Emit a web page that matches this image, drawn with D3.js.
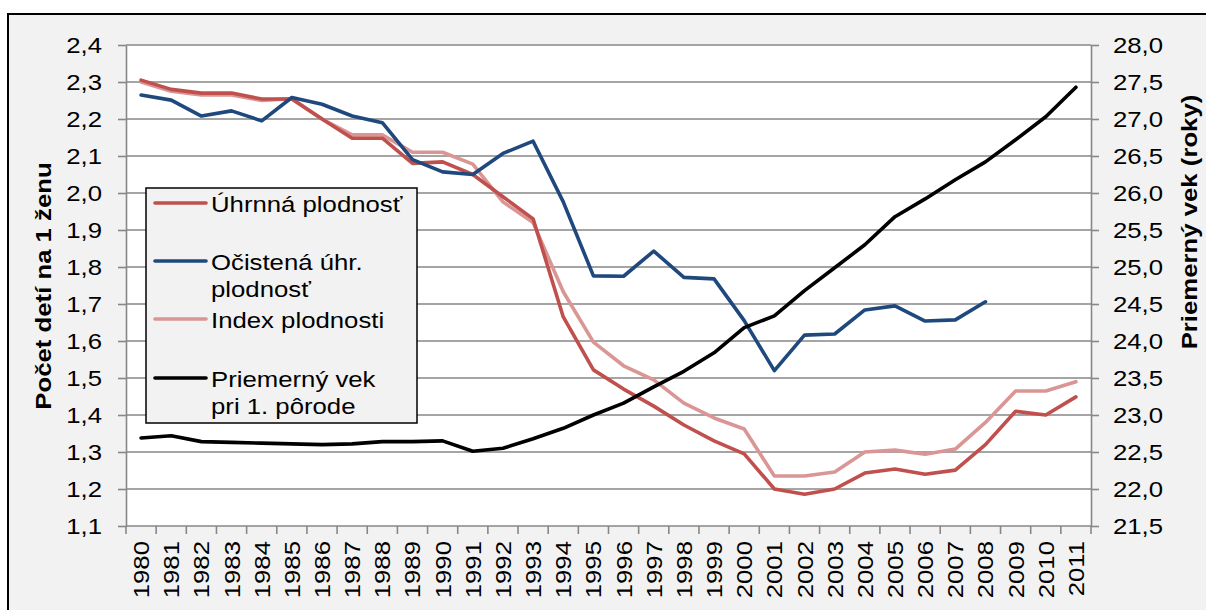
<!DOCTYPE html>
<html>
<head>
<meta charset="utf-8">
<script src="https://cdn.jsdelivr.net/npm/d3@7"></script>
<style>
  body { margin: 0; background: #ffffff; }
  svg { display: block; font-family: "Liberation Sans", Arial, sans-serif; }
</style>
</head>
<body>
<svg id="chart"></svg>
<script>
// years on the category axis
var years = d3.range(1980, 2012)

// Úhrnná plodnosť
var uhrnna = [2.305, 2.28, 2.27, 2.27, 2.254, 2.254, 2.20, 2.148, 2.148, 2.08, 2.084, 2.05, 1.99, 1.93, 1.665, 1.522,
    1.47, 1.424, 1.373, 1.33, 1.295, 1.20, 1.186, 1.20, 1.243, 1.254, 1.24, 1.251, 1.32, 1.41, 1.40, 1.449]
// Očistená úhr. plodnosť (ends 2008)
var ocistena = [2.265, 2.251, 2.208, 2.222, 2.195, 2.258, 2.24, 2.208, 2.19, 2.09, 2.057, 2.05, 2.107, 2.14, 1.976, 1.776,
    1.775, 1.843, 1.772, 1.768, 1.655, 1.52, 1.616, 1.619, 1.684, 1.695, 1.654, 1.657, 1.706, null, null, null]
// Index plodnosti
var indexPl = [2.30, 2.275, 2.265, 2.265, 2.25, 2.255, 2.20, 2.157, 2.157, 2.11, 2.11, 2.078, 1.976, 1.92, 1.733, 1.597,
    1.533, 1.495, 1.432, 1.392, 1.362, 1.235, 1.235, 1.246, 1.30, 1.305, 1.294, 1.308, 1.38, 1.465, 1.465, 1.49]
// Priemerný vek pri 1. pôrode (right axis)
var vek = [22.69, 22.72, 22.64, 22.63, 22.62, 22.61, 22.60, 22.61, 22.64, 22.64, 22.65, 22.51, 22.55, 22.68, 22.82, 23.0,
    23.16, 23.38, 23.59, 23.84, 24.18, 24.34, 24.68, 24.99, 25.30, 25.68, 25.92, 26.18, 26.42, 26.72, 27.03, 27.43]

var leftTicks = d3.range(11, 25).map(d => d / 10)
var rightTicks = d3.range(43, 57).map(d => d / 2)

var dims = { width: 1206, height: 610, left: 126, right: 1091, top: 45, bottom: 526 }
var sx = 1.17   // labels in the original are wider than Arial

var svg = d3.select("#chart")
    .attr("width", dims.width)
    .attr("height", dims.height)

var comma = d3.format(".1f")
var fmt = d => comma(d).replace(".", ",")

// frame
svg.append("rect")
    .attr("x", 8).attr("y", 14)
    .attr("width", 1240).attr("height", 640)
    .attr("fill", "#f2f2f2")
    .attr("stroke", "#000").attr("stroke-width", 2)

svg.append("rect")
    .attr("x", dims.left).attr("y", dims.top)
    .attr("width", dims.right - dims.left).attr("height", dims.bottom - dims.top)
    .attr("fill", "#fff")

var xScale = d3.scaleBand()
    .domain(years)
    .range([dims.left, dims.right])
var xMid = d => xScale(d) + xScale.bandwidth() / 2

var yLeft = d3.scaleLinear()
    .domain([1.1, 2.4])
    .range([dims.bottom, dims.top])

var yRight = d3.scaleLinear()
    .domain([21.5, 28.0])
    .range([dims.bottom, dims.top])

// gridlines
svg.append("g").selectAll("line")
    .data(leftTicks)
    .join("line")
    .attr("x1", dims.left).attr("x2", dims.right)
    .attr("y1", d => yLeft(d)).attr("y2", d => yLeft(d))
    .attr("stroke", "#878787").attr("stroke-width", 1.6)

// left axis
var axL = svg.append("g")
    .attr("transform", `translate(${dims.left},0)`)
    .call(d3.axisLeft(yLeft).tickValues(leftTicks).tickFormat(fmt).tickSize(8).tickSizeOuter(0))
axL.select(".domain").attr("stroke", "#878787").attr("stroke-width", 1.6)
axL.selectAll(".tick line").attr("stroke", "#878787").attr("stroke-width", 1.6)
axL.selectAll(".tick text")
    .attr("x", -24 / sx).attr("dy", "0.36em")
    .attr("transform", `scale(${sx},1)`)
    .style("font-size", "22px").style("fill", "#000")
    .style("font-family", "'Liberation Sans', Arial, sans-serif")

// right axis
var axR = svg.append("g")
    .attr("transform", `translate(${dims.right},0)`)
    .call(d3.axisRight(yRight).tickValues(rightTicks).tickFormat(fmt).tickSize(8).tickSizeOuter(0))
axR.select(".domain").attr("stroke", "#878787").attr("stroke-width", 1.6)
axR.selectAll(".tick line").attr("stroke", "#878787").attr("stroke-width", 1.6)
axR.selectAll(".tick text")
    .attr("x", 22 / sx).attr("dy", "0.36em")
    .attr("transform", `scale(${sx},1)`)
    .style("font-size", "22px").style("fill", "#000")
    .style("font-family", "'Liberation Sans', Arial, sans-serif")

// x axis ticks at category boundaries
var edges = years.map(d => xScale(d)).concat([dims.right])
svg.append("g").selectAll("line")
    .data(edges)
    .join("line")
    .attr("x1", d => d).attr("x2", d => d)
    .attr("y1", dims.bottom).attr("y2", dims.bottom + 8)
    .attr("stroke", "#878787").attr("stroke-width", 1.6)

svg.append("g").selectAll("text")
    .data(years)
    .join("text")
    .attr("transform", d => `translate(${xMid(d) + 8},${dims.bottom + 15}) rotate(-90) scale(${sx},1)`)
    .attr("text-anchor", "end")
    .style("font-size", "22px")
    .text(d => d)

// series
var seriesList = [
    { name: "Index plodnosti", values: indexPl, color: "#d99694", y: yLeft },
    { name: "Úhrnná plodnosť", values: uhrnna, color: "#c0504d", y: yLeft },
    { name: "Očistená úhr. plodnosť", values: ocistena, color: "#1f497d", y: yLeft },
    { name: "Priemerný vek", values: vek, color: "#000000", y: yRight }
]

seriesList.forEach(function (s) {
    var line = d3.line()
        .defined(d => d[1] != null)
        .x(d => xMid(d[0]))
        .y(d => s.y(d[1]))
    svg.append("path")
        .datum(years.map((yr, i) => [yr, s.values[i]]))
        .attr("d", line)
        .attr("fill", "none")
        .attr("stroke", s.color)
        .attr("stroke-width", 3.6)
        .attr("stroke-linejoin", "round")
        .attr("stroke-linecap", "round")
})

// legend
var legend = svg.append("g")
legend.append("rect")
    .attr("x", 146).attr("y", 188)
    .attr("width", 271).attr("height", 235)
    .attr("fill", "#f2f2f2")
    .attr("stroke", "#000").attr("stroke-width", 1.5)

var legendItems = [
    { lines: ["Úhrnná plodnosť"], color: "#c0504d", y: 212 },
    { lines: ["Očistená úhr.", "plodnosť"], color: "#1f497d", y: 270 },
    { lines: ["Index plodnosti"], color: "#d99694", y: 328 },
    { lines: ["Priemerný vek", "pri 1. pôrode"], color: "#000000", y: 387 }
]

legendItems.forEach(function (item) {
    legend.append("line")
        .attr("x1", 155).attr("x2", 206)
        .attr("y1", item.y - 9).attr("y2", item.y - 9)
        .attr("stroke", item.color).attr("stroke-width", 3.6)
        .attr("stroke-linecap", "round")
    item.lines.forEach(function (t, i) {
        legend.append("text")
            .attr("transform", `translate(211,${item.y + i * 27}) scale(${sx},1)`)
            .style("font-size", "22px")
            .text(t)
    })
})

// axis titles
svg.append("text")
    .attr("transform", `translate(51,286) rotate(-90) scale(${sx},1)`)
    .attr("text-anchor", "middle")
    .style("font-size", "22px")
    .style("font-weight", "bold")
    .text("Počet detí na 1 ženu")

svg.append("text")
    .attr("transform", `translate(1197,222) rotate(-90) scale(${sx},1)`)
    .attr("text-anchor", "middle")
    .style("font-size", "22px")
    .style("font-weight", "bold")
    .text("Priemerný vek (roky)")
</script>
</body>
</html>
